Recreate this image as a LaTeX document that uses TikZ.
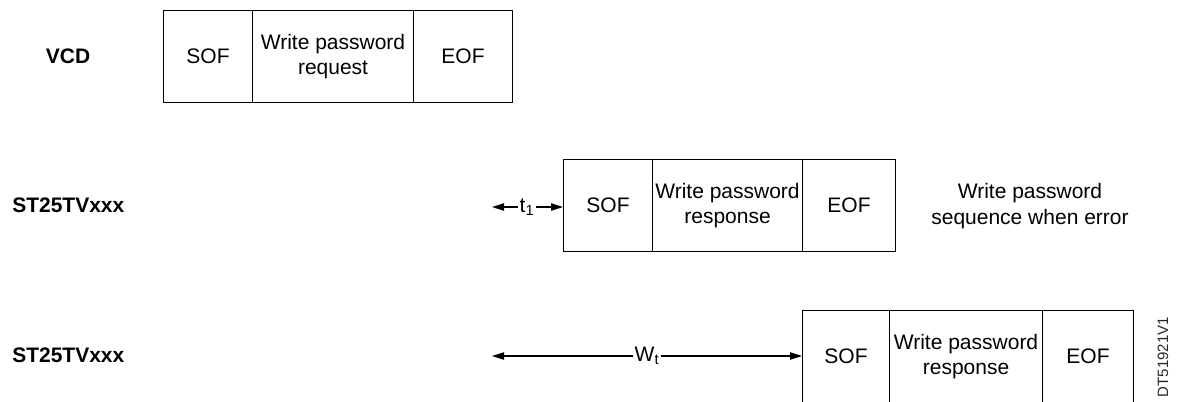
\documentclass[tikz,border=0pt]{standalone}
\usepackage{fontspec}
\setmainfont{Liberation Sans}
\usetikzlibrary{arrows.meta}
\begin{document}
\begin{tikzpicture}[x=0.75pt,y=-0.75pt,
  every node/.style={font=\fontsize{15.75pt}{18.9pt}\selectfont},
  cell/.style={draw, line width=0.8pt, anchor=north west, inner sep=0pt, align=center, minimum height=69pt},
  lbl/.style={font=\fontsize{15.75pt}{18.9pt}\selectfont\bfseries},
  arr/.style={line width=0.8pt, -{Triangle[length=9pt,width=5.5pt]}},
  sub/.style={inner sep=1pt, fill=white}]
\useasboundingbox (0,0) rectangle (1179,401);
% row labels
\node[lbl] (vcd) at (68,56) {VCD};
\node[lbl, anchor=west, inner sep=0pt] (st1) at (12,205) {ST25TVxxx};
\node[lbl, anchor=west, inner sep=0pt] (st2) at (12,355) {ST25TVxxx};
% VCD frame
\node[cell, minimum width=66.75pt] (sofA) at (163,10) {SOF};
\node[cell, minimum width=120.75pt] (midA) at (252,10) {Write password\\request};
\node[cell, minimum width=74.25pt] (eofA) at (413,10) {EOF};
% response 1
\node[cell, minimum width=66.75pt] (sofB) at (563,159) {SOF};
\node[cell, minimum width=112.5pt] (midB) at (652,159) {Write password\\response};
\node[cell, minimum width=69.75pt] (eofB) at (802,159) {EOF};
\node[align=center] (note) at (1030,206) {Write password\\sequence when error};
% response 2
\node[cell, minimum width=65.25pt] (sofC) at (802,310) {SOF};
\node[cell, minimum width=114.75pt] (midC) at (889,310) {Write password\\response};
\node[cell, minimum width=68.25pt] (eofC) at (1042,310) {EOF};
% t1 arrow
\coordinate (t1l) at (492,207);
\node[sub] (t1) at (527,207) {t\textsubscript{1}};
\draw[arr] (t1.west) -- (t1l);
\draw[arr] (t1.east) -- (t1.east -| sofB.west);
% Wt arrow
\coordinate (wtl) at (492,356);
\node[sub] (wt) at (647,356) {W\textsubscript{t}};
\draw[arr] (wt.west) -- (wtl);
\draw[arr] (wt.east) -- (wt.east -| sofC.west);
% figure id
\node[rotate=90, font=\fontsize{11.25pt}{12pt}\selectfont, text=black!85, inner sep=0pt] (id) at (1163,357) {DT51921V1};
\end{tikzpicture}
\end{document}
